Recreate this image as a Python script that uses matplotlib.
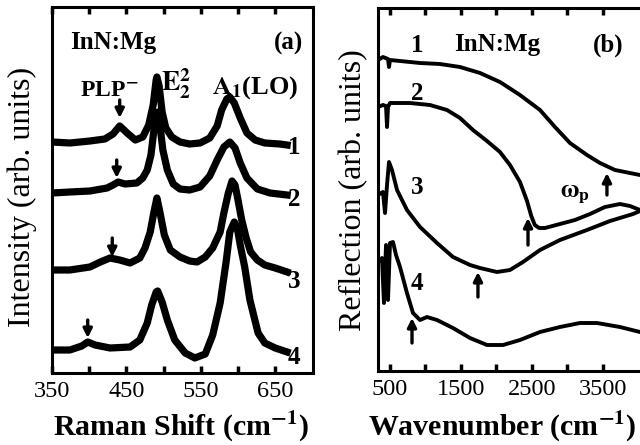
import matplotlib
matplotlib.use("Agg")
import matplotlib.pyplot as plt

plt.rcParams['font.family'] = ['Liberation Serif', 'DejaVu Serif']
plt.rcParams['mathtext.fontset'] = 'stix'

# ---------------- Panel (a): Raman spectra ----------------
raman_ticks = [350, 400, 450, 500, 550, 600, 650]
raman_ticklabels = ['350', '', '450', '', '550', '', '650']

r1_x = [350, 374, 401, 421, 432, 441, 451, 462, 472, 480, 486, 490, 491, 494, 498, 503, 511, 522, 535, 549, 562, 572, 578, 585, 589, 595, 603, 612, 623, 636, 656, 666]
r1_y = [231, 230, 232, 234, 239, 247, 240, 233, 236, 248, 268, 293, 296, 287, 261, 245, 236, 231, 229, 230, 235, 247, 263, 274, 276, 270, 255, 240, 233, 230, 229, 228]

r2_x = [350, 374, 401, 424, 432, 439, 448, 464, 472, 478, 483, 487, 490, 492, 495, 499, 505, 513, 522, 535, 549, 562, 572, 581, 589, 596, 603, 612, 626, 643, 666]
r2_y = [180, 181, 182, 185, 188, 191, 189, 190, 195, 203, 218, 243, 258, 261, 248, 223, 203, 189, 184, 183, 186, 197, 213, 226, 231, 225, 210, 195, 184, 180, 178]

r3_x = [350, 374, 401, 415, 428, 441, 455, 468, 475, 482, 487, 491, 495, 501, 509, 522, 535, 545, 556, 566, 576, 581, 587, 592, 596, 600, 605, 611, 617, 626, 636, 650, 666]
r3_y = [103, 103, 106, 111, 115, 113, 110, 115, 125, 141, 161, 175, 161, 138, 123, 116, 112, 111, 116, 125, 141, 160, 180, 192, 188, 173, 153, 135, 121, 113, 108, 105, 101]

r4_x = [350, 374, 390, 398, 408, 428, 455, 468, 478, 484, 490, 492, 498, 505, 515, 529, 542, 556, 566, 576, 584, 589, 595, 599, 603, 609, 616, 627, 636, 650, 666]
r4_y = [23, 23, 27, 31, 28, 25, 26, 33, 50, 68, 81, 82, 71, 53, 33, 20, 15, 19, 38, 70, 111, 141, 151, 145, 128, 106, 73, 40, 30, 25, 21]

raman_x = [r1_x, r2_x, r3_x, r4_x]
raman_y = [r1_y, r2_y, r3_y, r4_y]
raman_labels = ['1', '2', '3', '4']
raman_label_y = [226, 173, 91, 15]
plp_arrow_x = [441, 437, 431, 398]
plp_arrow_tail = [273, 213, 135, 53]
plp_arrow_tip = [255, 195, 116, 35]

# ---------------- Panel (b): IR reflection ----------------
ir_ticks = [500, 1000, 1500, 2000, 2500, 3000, 3500]
ir_ticklabels = ['500', '', '1500', '', '2500', '', '3500']

f1_x = [331, 401, 472, 486, 500, 641, 923, 1204, 1486, 1768, 2049, 2331, 2613, 2824, 3035, 3275, 3458, 3669, 4021, 4105]
f1_y = [311, 314, 312, 304, 311, 310, 308, 307, 304, 298, 289, 276, 261, 244, 228, 216, 208, 201, 196, 195]

f2_x = [331, 401, 444, 458, 472, 500, 782, 1063, 1303, 1486, 1669, 1866, 2049, 2190, 2331, 2430, 2490, 2540, 2600, 2683, 2894, 3106, 3317, 3528, 3739, 3880, 4021, 4105]
f2_y = [264, 266, 265, 244, 264, 268, 268, 266, 261, 253, 241, 230, 219, 206, 189, 170, 155, 146, 143, 143, 147, 151, 157, 164, 167, 165, 161, 159]

f3_x = [331, 401, 430, 458, 486, 528, 599, 739, 923, 1162, 1387, 1627, 1768, 2007, 2190, 2373, 2613, 2894, 3275, 3599, 3923, 4021, 4105]
f3_y = [176, 179, 158, 186, 209, 201, 181, 161, 144, 128, 114, 106, 103, 99, 101, 109, 121, 131, 141, 150, 157, 160, 161]

f4_x = [331, 387, 415, 444, 472, 500, 542, 585, 641, 739, 824, 923, 1021, 1162, 1387, 1627, 1866, 2092, 2331, 2613, 2894, 3176, 3415, 3739, 4021, 4105]
f4_y = [109, 113, 68, 126, 71, 128, 129, 116, 104, 78, 58, 51, 54, 51, 43, 33, 26, 26, 31, 39, 44, 48, 48, 44, 39, 38]

ir_x = [f1_x, f2_x, f3_x, f4_x]
ir_y = [f1_y, f2_y, f3_y, f4_y]
ir_labels = ['1', '2', '3', '4']
ir_label_x = [880, 880, 880, 880]
ir_label_y = [326, 278, 183, 88]
wp_arrow_x = [3556, 2444, 1739, 810]
wp_arrow_tail = [176, 126, 74, 28]
wp_arrow_tip = [198, 153, 99, 53]

fig = plt.figure(figsize=(6.4, 4.45), dpi=100)
W, H = 640.0, 445.0
axa = fig.add_axes([52 / W, 1 - 373 / H, (313 - 52) / W, (373 - 7) / H])
axb = fig.add_axes([378 / W, 1 - 371 / H, (645 - 378) / W, (371 - 8) / H])

for ax in (axa, axb):
    for sp in ax.spines.values():
        sp.set_linewidth(2.2)
    ax.tick_params(axis='x', direction='in', length=5, width=2.5, top=True,
                   labelsize=17.5, pad=6)
    ax.tick_params(axis='y', left=False, right=False, labelleft=False)

# Panel (a)
for xs, ys in zip(raman_x, raman_y):
    axa.plot(xs, ys, color='black', lw=5.2, solid_joinstyle='round')
axa.set_xlim(350, 700.8)
axa.set_ylim(0, 366)
axa.set_xticks(raman_ticks)
axa.set_xticklabels(raman_ticklabels)
for lab, yy in zip(raman_labels, raman_label_y):
    axa.text(675, yy, lab, fontsize=18, fontweight='bold', ha='center', va='center')
for ax_, t_, h_ in zip(plp_arrow_x, plp_arrow_tail, plp_arrow_tip):
    axa.annotate('', xy=(ax_, h_), xytext=(ax_, t_),
                 arrowprops=dict(arrowstyle='-|>', color='black', lw=2.4,
                                 mutation_scale=13, shrinkA=0, shrinkB=0))
axa.text(374, 330, 'InN:Mg', fontsize=18, fontweight='bold', ha='left', va='center')
axa.text(687, 330, '(a)', fontsize=18, fontweight='bold', ha='right', va='center')
axa.text(388, 283, r'PLP$^{\mathbf{-}}$', fontsize=17, fontweight='bold', ha='left', va='center')
axa.text(496, 289, r'$\mathbf{E}_{\mathbf{2}}^{\mathbf{2}}$', fontsize=20, ha='left', va='center')
axa.text(565, 285, r'$\mathbf{A}_{\mathbf{1}}$(LO)', fontsize=19, fontweight='bold', ha='left', va='center')

# Panel (b)
for xs, ys in zip(ir_x, ir_y):
    axb.plot(xs, ys, color='black', lw=2.8, solid_joinstyle='round')
axb.set_xlim(331, 4092)
axb.set_ylim(0, 363)
axb.set_xticks(ir_ticks)
axb.set_xticklabels(ir_ticklabels)
axb.spines['right'].set_visible(False)
for lab, xx, yy in zip(ir_labels, ir_label_x, ir_label_y):
    axb.text(xx, yy, lab, fontsize=18, fontweight='bold', ha='center', va='center')
for ax_, t_, h_ in zip(wp_arrow_x, wp_arrow_tail, wp_arrow_tip):
    axb.annotate('', xy=(ax_, h_), xytext=(ax_, t_),
                 arrowprops=dict(arrowstyle='-|>', color='black', lw=2.4,
                                 mutation_scale=13, shrinkA=0, shrinkB=0))
axb.text(1410, 326, 'InN:Mg', fontsize=18, fontweight='bold', ha='left', va='center')
axb.text(3580, 326, '(b)', fontsize=18, fontweight='bold', ha='center', va='center')
axb.text(3106, 176, r'$\mathbf{\omega_p}$', fontsize=18, ha='center', va='center')

# Axis titles
fig.text(22 / W, 1 - 197 / H, 'Intensity (arb. units)', rotation=90, fontsize=23,
         ha='center', va='center')
fig.text(354 / W, 1 - 190 / H, 'Reflection (arb. units)', rotation=90, fontsize=23,
         ha='center', va='center')
fig.text(181 / W, 1 - 427 / H, r'Raman Shift (cm$^{\mathbf{-1}}$)', fontsize=21.5,
         fontweight='bold', ha='center', va='center')
fig.text(502 / W, 1 - 427 / H, r'Wavenumber (cm$^{\mathbf{-1}}$)', fontsize=21.5,
         fontweight='bold', ha='center', va='center')

fig.savefig('out.png', dpi=100)
